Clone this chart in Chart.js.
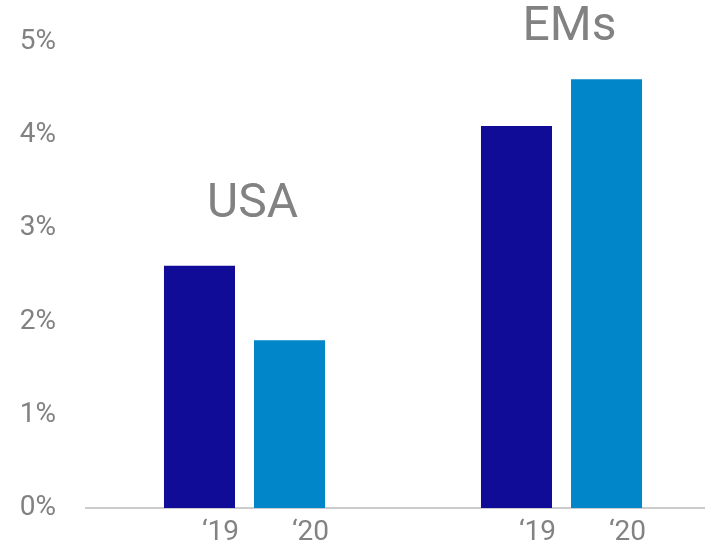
<!DOCTYPE html>
<html>
<head>
<meta charset="utf-8">
<script src="https://cdn.jsdelivr.net/npm/chart.js@4"></script>
<style>
  html, body { margin: 0; padding: 0; background: #fff; overflow: hidden; }
</style>
</head>
<body>
<canvas id="myChart" width="720" height="548"></canvas>
<script>
var regions = ['USA', 'EMs'];
var years = ['\u201819', '\u201820'];
var growth19 = [2.6, 4.1];
var growth20 = [1.8, 4.6];
var yTicks = [0, 1, 2, 3, 4, 5];

var grey = '#828282';
var font = 'Roboto, "Liberation Sans", sans-serif';

var labelsPlugin = {
  id: 'labels',
  afterDatasetsDraw: function (chart) {
    var ctx = chart.ctx;
    var y = chart.scales.y;
    ctx.save();
    ctx.fillStyle = grey;
    ctx.textAlign = 'center';
    ctx.textBaseline = 'middle';
    // year labels under each bar, a bit right of centre
    ctx.font = '28px ' + font;
    chart.data.datasets.forEach(function (ds, di) {
      chart.getDatasetMeta(di).data.forEach(function (bar) {
        ctx.fillText(ds.label, bar.x + 21, chart.chartArea.bottom + 25);
      });
    });
    // region names above each group
    ctx.font = '48px ' + font;
    var offsets = [61, 51];
    regions.forEach(function (name, i) {
      var a = chart.getDatasetMeta(0).data[i];
      var b = chart.getDatasetMeta(1).data[i];
      var top = y.getPixelForValue(Math.max(growth19[i], growth20[i]));
      ctx.fillText(name, (a.x + b.x) / 2 + 8, top - offsets[i]);
    });
    ctx.restore();
  }
};

var ctx = document.getElementById('myChart').getContext('2d');
var myChart = new Chart(ctx, {
  type: 'bar',
  data: {
    labels: regions,
    datasets: [{
      label: years[0],
      data: growth19,
      backgroundColor: '#100c98'
    }, {
      label: years[1],
      data: growth20,
      backgroundColor: '#0086c9'
    }]
  },
  options: {
    responsive: false,
    animation: false,
    layout: { padding: { top: 42, right: 0, left: 0, bottom: 0 } },
    datasets: {
      bar: { categoryPercentage: 0.568, barPercentage: 0.789 }
    },
    plugins: {
      legend: { display: false },
      tooltip: { enabled: false }
    },
    scales: {
      x: {
        grid: { display: false },
        ticks: { display: false },
        border: { display: true, color: '#cccccc', width: 2 },
        afterFit: function (s) { s.height = 40; }
      },
      y: {
        min: 0,
        max: 5,
        afterBuildTicks: function (s) {
          s.ticks = yTicks.map(function (v) { return { value: v }; });
        },
        grid: { display: false, drawTicks: false },
        border: { display: false },
        ticks: {
          padding: 30,
          color: grey,
          font: { family: font, size: 28 },
          callback: function (v) { return v + '%'; }
        },
        afterFit: function (s) {
          s.width = 86;
          s.paddingTop = 0;
          s.paddingBottom = 0;
        }
      }
    }
  },
  plugins: [labelsPlugin]
});
</script>
</body>
</html>
